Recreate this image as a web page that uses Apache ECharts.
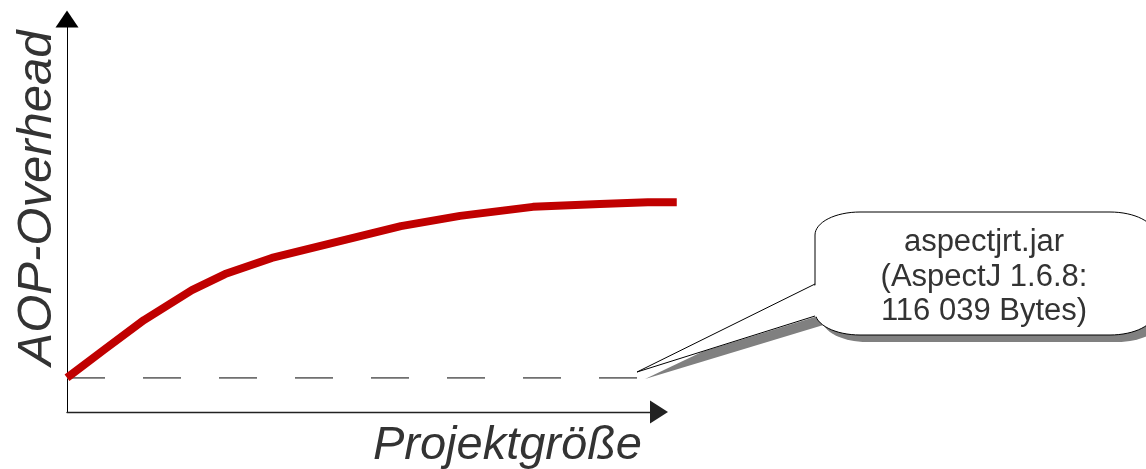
<!DOCTYPE html>
<html>
<head>
<meta charset="utf-8">
<script src="https://cdn.jsdelivr.net/npm/echarts@6/dist/echarts.min.js"></script>
<style>html,body{margin:0;padding:0;background:#fff}#c{width:1146px;height:469px}</style>
</head>
<body>
<div id="c"></div>
<script>
// Data (arbitrary units)
const projectSize = [0, 6.4, 13.0, 21.1, 26.7, 34.6, 46.1, 56.4, 66.4, 78.7, 90.0, 98.1, 103.0];
const aopOverhead = [8.7, 16.0, 23.4, 31.0, 35.1, 39.2, 43.5, 47.3, 49.9, 52.2, 52.9, 53.4, 53.4];
const baselineX = [0, 97.8];
const baselineY = [8.7, 8.7];
const xAxisName = 'Projektgröße';
const yAxisName = 'AOP-Overhead';
const calloutLines = ['aspectjrt.jar', '(AspectJ 1.6.8:', '116 039 Bytes)'];

const chart = echarts.init(document.getElementById('c'), null, {renderer: 'canvas'});
const FONT = '"Liberation Sans", Arial, sans-serif';

// visible axes grid and a slightly wider data grid (same scale) so the curve may run past the arrow
const W = 1146, L = 67, AX_R = 487, DATA_R = 446;
const axisW = W - L - AX_R;
const dataW = W - L - DATA_R;
const dataMaxX = 100 * dataW / axisW;

// rounded box outline with elliptical corners, as polygon points
function boxPoints(x, y, w, h, rx, ry) {
  const pts = [];
  const corners = [
    [x + w - rx, y + ry, -Math.PI / 2, 0],
    [x + w - rx, y + h - ry, 0, Math.PI / 2],
    [x + rx, y + h - ry, Math.PI / 2, Math.PI],
    [x + rx, y + ry, Math.PI, Math.PI * 1.5]
  ];
  const n = 16;
  corners.forEach(([cx, cy, a0, a1]) => {
    for (let i = 0; i <= n; i++) {
      const a = a0 + (a1 - a0) * i / n;
      pts.push([cx + rx * Math.cos(a), cy + ry * Math.sin(a)]);
    }
  });
  return pts;
}

const option = {
  animation: false,
  backgroundColor: '#ffffff',
  grid: [
    {left: L, top: 19, right: AX_R, bottom: 57, containLabel: false},
    {left: L, top: 19, right: DATA_R, bottom: 57, containLabel: false}
  ],
  xAxis: [
    {
      gridIndex: 0, type: 'value', min: 0, max: 100,
      name: xAxisName,
      nameLocation: 'end',
      nameGap: -17,
      nameTextStyle: {fontFamily: FONT, fontStyle: 'italic', fontSize: 47, color: '#333333', align: 'right', verticalAlign: 'top', padding: [10, 0, 0, 0]},
      axisLine: {show: true, symbol: ['none', 'triangle'], symbolSize: [23, 18], lineStyle: {color: '#222222', width: 1.4}},
      axisTick: {show: false}, axisLabel: {show: false}, splitLine: {show: false}
    },
    {
      gridIndex: 1, type: 'value', min: 0, max: dataMaxX, show: false
    }
  ],
  yAxis: [
    {
      gridIndex: 0, type: 'value', min: 0, max: 100,
      name: yAxisName,
      nameLocation: 'middle',
      nameRotate: 90,
      nameGap: 5,
      nameTextStyle: {fontFamily: FONT, fontStyle: 'italic', fontSize: 49, color: '#333333', padding: [0, 0, 0, 35]},
      axisLine: {show: true, symbol: ['none', 'triangle'], symbolSize: [23, 17], lineStyle: {color: '#000', width: 1}},
      axisTick: {show: false}, axisLabel: {show: false}, splitLine: {show: false}
    },
    {
      gridIndex: 1, type: 'value', min: 0, max: 100, show: false
    }
  ],
  series: [
    {
      type: 'line', xAxisIndex: 1, yAxisIndex: 1,
      data: baselineX.map((x, i) => [x, baselineY[i]]),
      symbol: 'none',
      lineStyle: {color: '#707070', width: 1.8, type: [38, 38]},
      z: 1
    },
    {
      type: 'line', xAxisIndex: 1, yAxisIndex: 1,
      data: projectSize.map((x, i) => [x, aopOverhead[i]]),
      symbol: 'none',
      smooth: false,
      clip: false,
      lineStyle: {color: '#c00000', width: 8, cap: 'butt', join: 'round'},
      z: 2
    }
  ],
  graphic: [
    {type: 'group', z: 10, children: [
      // shadow
      {type: 'polygon', shape: {points: boxPoints(822, 219, 340, 123, 45, 23)}, style: {fill: '#808080'}},
      {type: 'polygon', shape: {points: [[830, 291], [645, 379], [830, 323]]}, style: {fill: '#808080'}},
      // bubble
      {type: 'polygon', shape: {points: boxPoints(815, 212, 340, 123, 45, 23)}, style: {fill: '#ffffff', stroke: '#000', lineWidth: 1}},
      {type: 'polygon', shape: {points: [[818, 284], [637, 372], [818, 316]]}, style: {fill: '#ffffff'}},
      {type: 'polyline', shape: {points: [[815, 284], [637, 372], [815, 316]]}, style: {fill: null, stroke: '#000', lineWidth: 1}},
      {type: 'text', x: 984, y: 277, style: {text: calloutLines.join('\n'), font: '31px ' + FONT, fill: '#333333', align: 'center', verticalAlign: 'middle', lineHeight: 34.5}}
    ]}
  ]
};
chart.setOption(option);
</script>
</body>
</html>
